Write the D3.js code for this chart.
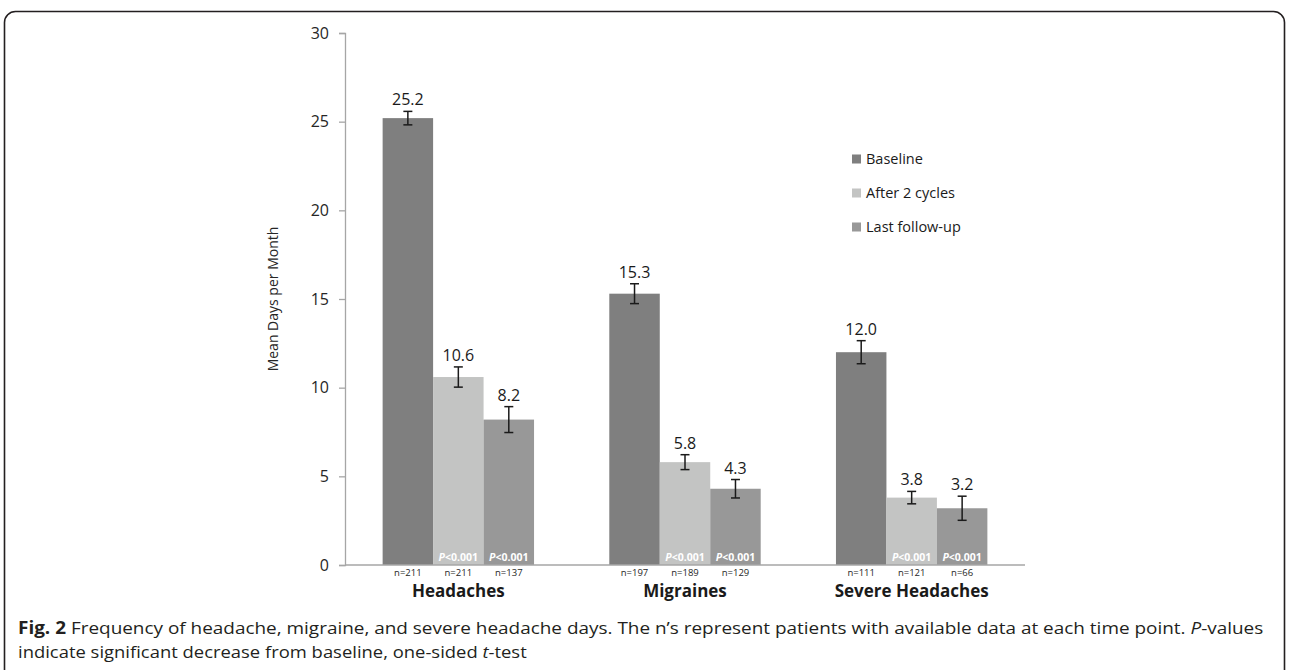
<!DOCTYPE html>
<html>
<head>
<meta charset="utf-8">
<script src="https://cdn.jsdelivr.net/npm/d3@7"></script>
<style>
  html, body { margin: 0; padding: 0; background: #fff; }
  svg { display: block; }
</style>
</head>
<body>
<svg id="chart" width="1290" height="670"></svg>
<script>
// Groups, series and values
const categories = ["Headaches", "Migraines", "Severe Headaches"];
const seriesNames = ["Baseline", "After 2 cycles", "Last follow-up"];
const baselineValues = [25.2, 15.3, 12.0];
const after2Values = [10.6, 5.8, 3.8];
const lastValues = [8.2, 4.3, 3.2];
// Half-length of each error bar (mean days)
const baselineErr = [0.38, 0.56, 0.65];
const after2Err = [0.57, 0.42, 0.35];
const lastErr = [0.73, 0.52, 0.68];
// Patients with available data
const baselineN = [211, 197, 111];
const after2N = [211, 189, 121];
const lastN = [137, 129, 66];
// Significance labels (none for baseline)
const pLabels = [null, "<0.001", "<0.001"];
const yTicks = [0, 5, 10, 15, 20, 25, 30];

const colors = ["#7f7f7f", "#c3c4c3", "#989898"];
const font = "'Open Sans', 'DejaVu Sans', sans-serif";

const svg = d3.select("#chart");

// Outer rounded frame
svg.append("rect")
  .attr("x", 4.5).attr("y", 11.5)
  .attr("width", 1280).attr("height", 700)
  .attr("rx", 11).attr("ry", 11)
  .attr("fill", "none").attr("stroke", "#231f20").attr("stroke-width", 1.6);

const x0 = d3.scaleBand().domain(categories).range([345, 1025])
  .paddingInner(0.332).paddingOuter(0.166);
const x1 = d3.scaleBand().domain(seriesNames).range([0, x0.bandwidth()]).padding(0);
const y = d3.scaleLinear().domain([0, 30]).range([565, 33]);

// Y axis
const yAxis = svg.append("g").attr("transform", "translate(345,0)")
  .call(d3.axisLeft(y).tickValues(yTicks).tickSize(6).tickPadding(10).tickFormat(d3.format("d")));
yAxis.select(".domain").attr("stroke", "#a6a6a6").attr("stroke-width", 1.3);
yAxis.selectAll(".tick line").attr("stroke", "#a6a6a6").attr("stroke-width", 1.3);
yAxis.selectAll(".tick text").attr("font-family", font).attr("font-size", 16).attr("fill", "#262626");

svg.append("text")
  .attr("transform", "translate(278,299) rotate(-90)")
  .attr("text-anchor", "middle")
  .attr("font-family", font).attr("font-size", 14).attr("fill", "#262626")
  .text("Mean Days per Month");

// Assemble rows per group and series
const rows = [];
categories.forEach((c, i) => {
  const vals = [baselineValues[i], after2Values[i], lastValues[i]];
  const errs = [baselineErr[i], after2Err[i], lastErr[i]];
  const ns = [baselineN[i], after2N[i], lastN[i]];
  seriesNames.forEach((s, j) => rows.push({ cat: c, series: s, j, value: vals[j], err: errs[j], n: ns[j] }));
});

const bx = d => x0(d.cat) + x1(d.series);
const bw = x1.bandwidth();

// Bars
svg.append("g").selectAll("rect").data(rows).join("rect")
  .attr("x", bx).attr("width", bw)
  .attr("y", d => y(d.value)).attr("height", d => y(0) - y(d.value))
  .attr("fill", d => colors[d.j]);

// X axis baseline
svg.append("line")
  .attr("x1", 345).attr("x2", 1025).attr("y1", y(0)).attr("y2", y(0))
  .attr("stroke", "#a6a6a6").attr("stroke-width", 1.3);

// Error bars
const eg = svg.append("g").attr("stroke", "#1a1a1a").attr("stroke-width", 1.5);
rows.forEach(d => {
  const cx = bx(d) + bw / 2;
  const t = y(d.value + d.err), b = y(d.value - d.err);
  eg.append("line").attr("x1", cx).attr("x2", cx).attr("y1", t).attr("y2", b);
  eg.append("line").attr("x1", cx - 4.5).attr("x2", cx + 4.5).attr("y1", t).attr("y2", t);
  eg.append("line").attr("x1", cx - 4.5).attr("x2", cx + 4.5).attr("y1", b).attr("y2", b);
});

// Value labels
svg.append("g").selectAll("text").data(rows).join("text")
  .attr("x", d => bx(d) + bw / 2)
  .attr("y", d => y(d.value + d.err) - 6)
  .attr("text-anchor", "middle")
  .attr("font-family", font).attr("font-size", 16).attr("fill", "#1a1a1a")
  .text(d => d.value.toFixed(1));

// P-value labels inside bars
const pRows = rows.filter(d => pLabels[d.j]);
const pt = svg.append("g").selectAll("text").data(pRows).join("text")
  .attr("x", d => bx(d) + bw / 2).attr("y", 561)
  .attr("text-anchor", "middle")
  .attr("font-family", font).attr("font-size", 10.5).attr("font-weight", "bold").attr("fill", "#ffffff");
pt.append("tspan").attr("font-style", "italic").text("P");
pt.append("tspan").text(d => pLabels[d.j]);

// n labels
svg.append("g").selectAll("text").data(rows).join("text")
  .attr("x", d => bx(d) + bw / 2).attr("y", 576)
  .attr("text-anchor", "middle")
  .attr("font-family", font).attr("font-size", 9.5).attr("fill", "#262626")
  .text(d => "n=" + d.n);

// Category labels
svg.append("g").selectAll("text").data(categories).join("text")
  .attr("x", d => x0(d) + x0.bandwidth() / 2).attr("y", 597)
  .attr("text-anchor", "middle")
  .attr("font-family", font).attr("font-size", 17).attr("font-weight", "bold").attr("fill", "#1a1a1a")
  .text(d => d);

// Legend
const lg = svg.append("g").attr("transform", "translate(852,0)");
seriesNames.forEach((s, j) => {
  const cy = 159 + j * 34;
  lg.append("rect").attr("x", 0).attr("y", cy - 4.5).attr("width", 9).attr("height", 9).attr("fill", colors[j]);
  lg.append("text").attr("x", 14).attr("y", cy + 5)
    .attr("font-family", font).attr("font-size", 14.5).attr("fill", "#1a1a1a").text(s);
});

// Caption: set in a condensed style by scaling each line horizontally to its width
function captionLine(yPos, targetWidth, parts) {
  const g = svg.append("g");
  const t = g.append("text").attr("x", 0).attr("y", 0)
    .attr("font-family", font).attr("font-size", 17).attr("fill", "#231f20");
  parts.forEach(p => {
    const s = t.append("tspan").text(p.text);
    if (p.bold) s.attr("font-weight", "bold");
    if (p.italic) s.attr("font-style", "italic");
  });
  const w = t.node().getComputedTextLength();
  g.attr("transform", `translate(18,${yPos}) scale(${targetWidth / w},1)`);
}
captionLine(634, 1246, [
  { text: "Fig. 2", bold: true },
  { text: " Frequency of headache, migraine, and severe headache days. The n\u2019s represent patients with available data at each time point. " },
  { text: "P", italic: true },
  { text: "-values" }
]);
captionLine(658, 509, [
  { text: "indicate significant decrease from baseline, one-sided " },
  { text: "t", italic: true },
  { text: "-test" }
]);
</script>
</body>
</html>
